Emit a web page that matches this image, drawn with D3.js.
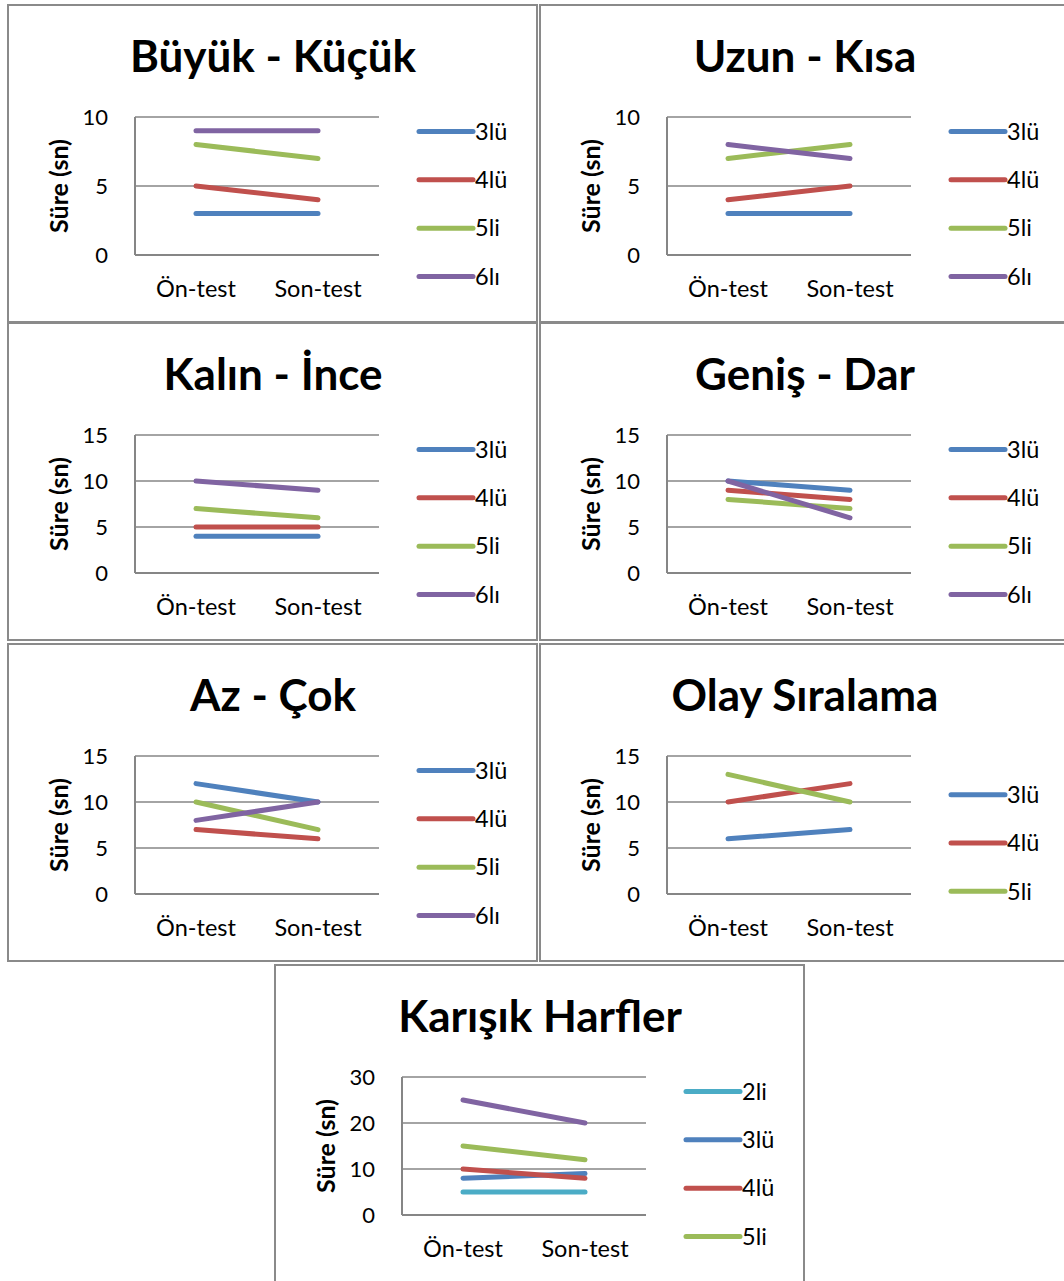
<!DOCTYPE html>
<html>
<head>
<meta charset="utf-8">
<script src="https://cdn.jsdelivr.net/npm/d3@7"></script>
<style>
  body { margin: 0; background: #fff; }
  svg { display: block; font-family: Lato, "Open Sans", sans-serif; }
</style>
</head>
<body>
<svg id="chart" width="1064" height="1281"></svg>
<script>
// categories on the x axis
var categories = ["Ön-test", "Son-test"];

// values per panel (seconds)
var buyukKucuk = { "3lü": [3, 3], "4lü": [5, 4], "5li": [8, 7], "6lı": [9, 9] };
var uzunKisa = { "3lü": [3, 3], "4lü": [4, 5], "5li": [7, 8], "6lı": [8, 7] };
var kalinInce = { "3lü": [4, 4], "4lü": [5, 5], "5li": [7, 6], "6lı": [10, 9] };
var genisDar = { "3lü": [10, 9], "4lü": [9, 8], "5li": [8, 7], "6lı": [10, 6] };
var azCok = { "3lü": [12, 10], "4lü": [7, 6], "5li": [10, 7], "6lı": [8, 10] };
var olaySiralama = { "3lü": [6, 7], "4lü": [10, 12], "5li": [13, 10] };
var karisikHarfler = { "2li": [5, 5], "3lü": [8, 9], "4lü": [10, 8], "5li": [15, 12], "6lı": [25, 20] };

var titles = ["Büyük - Küçük", "Uzun - Kısa", "Kalın - İnce", "Geniş - Dar", "Az - Çok", "Olay Sıralama", "Karışık Harfler"];
var yMaxes = [10, 10, 15, 15, 15, 15, 30];
var yTickCounts = [2, 2, 3, 3, 3, 3, 3];
var yTitle = "Süre (sn)";

var colors = {
  "2li": "#4BACC6",
  "3lü": "#4F81BD",
  "4lü": "#C0504D",
  "5li": "#9BBB59",
  "6lı": "#8064A2"
};

var datasets = [buyukKucuk, uzunKisa, kalinInce, genisDar, azCok, olaySiralama, karisikHarfler];

// panel frames
var panelPos = [[8, 5], [540, 5], [8, 323], [540, 323], [8, 644], [540, 644], [275, 965]];
var panelW = 529, panelH = 317;
var plot = { left: 127, right: 371, top: 112, bottom: 250 };

var svg = d3.select('#chart');

datasets.forEach(function(data, i) {
  var g = svg.append('g')
    .attr('transform', 'translate(' + panelPos[i][0] + ',' + panelPos[i][1] + ')');

  g.append('rect')
    .attr('x', 0).attr('y', 0)
    .attr('width', panelW).attr('height', i === 6 ? 360 : panelH)
    .attr('fill', '#fff')
    .attr('stroke', '#8a8a8a')
    .attr('stroke-width', 2);

  g.append('text')
    .attr('x', 265).attr('y', 67)
    .attr('text-anchor', 'middle')
    .style('font-size', '44px')
    .style('font-weight', 'bold')
    .text(titles[i]);

  var x = d3.scalePoint().domain(categories).range([plot.left, plot.right]).padding(0.5);
  var y = d3.scaleLinear().domain([0, yMaxes[i]]).range([plot.bottom, plot.top]);
  var ticks = y.ticks(yTickCounts[i]);

  // gridlines
  g.selectAll('line.grid').data(ticks).enter()
    .append('line')
    .attr('class', 'grid')
    .attr('x1', plot.left).attr('x2', plot.right)
    .attr('y1', function(d) { return y(d); })
    .attr('y2', function(d) { return y(d); })
    .attr('stroke', '#868686')
    .attr('stroke-width', function(d) { return d === 0 ? 2 : 1.3; });

  g.append('line')
    .attr('x1', plot.left).attr('x2', plot.left)
    .attr('y1', plot.top).attr('y2', plot.bottom)
    .attr('stroke', '#868686')
    .attr('stroke-width', 2);

  // tick labels
  g.selectAll('text.ytick').data(ticks).enter()
    .append('text')
    .attr('class', 'ytick')
    .attr('x', 100)
    .attr('y', function(d) { return y(d); })
    .attr('dy', '0.35em')
    .attr('text-anchor', 'end')
    .style('font-size', '22px')
    .text(function(d) { return d; });

  g.selectAll('text.xtick').data(categories).enter()
    .append('text')
    .attr('class', 'xtick')
    .attr('x', function(d) { return x(d); })
    .attr('y', 292)
    .attr('text-anchor', 'middle')
    .style('font-size', '23.5px')
    .text(function(d) { return d; });

  g.append('text')
    .attr('transform', 'translate(60,' + 181 + ') rotate(-90)')
    .attr('text-anchor', 'middle')
    .style('font-size', '25px')
    .style('font-weight', 'bold')
    .text(yTitle);

  var names = Object.keys(data);
  var line = d3.line()
    .x(function(d, j) { return x(categories[j]); })
    .y(function(d) { return y(d); });

  names.forEach(function(name) {
    g.append('path')
      .attr('d', line(data[name]))
      .attr('fill', 'none')
      .attr('stroke', colors[name])
      .attr('stroke-width', 5)
      .attr('stroke-linecap', 'round');
  });

  // legend (entries that do not fit in the frame are left out)
  var step = 48.3;
  var top = 199 - (Math.min(names.length, 4) - 1) / 2 * step;
  names.forEach(function(name, k) {
    var ly = top + k * step;
    if (ly + 12 > panelH) return;
    g.append('line')
      .attr('x1', 411).attr('x2', 465)
      .attr('y1', ly).attr('y2', ly)
      .attr('stroke', colors[name])
      .attr('stroke-width', 5)
      .attr('stroke-linecap', 'round');
    g.append('text')
      .attr('x', 467).attr('y', ly)
      .attr('dy', '0.35em')
      .style('font-size', '23.5px')
      .text(name);
  });
});
</script>
</body>
</html>
